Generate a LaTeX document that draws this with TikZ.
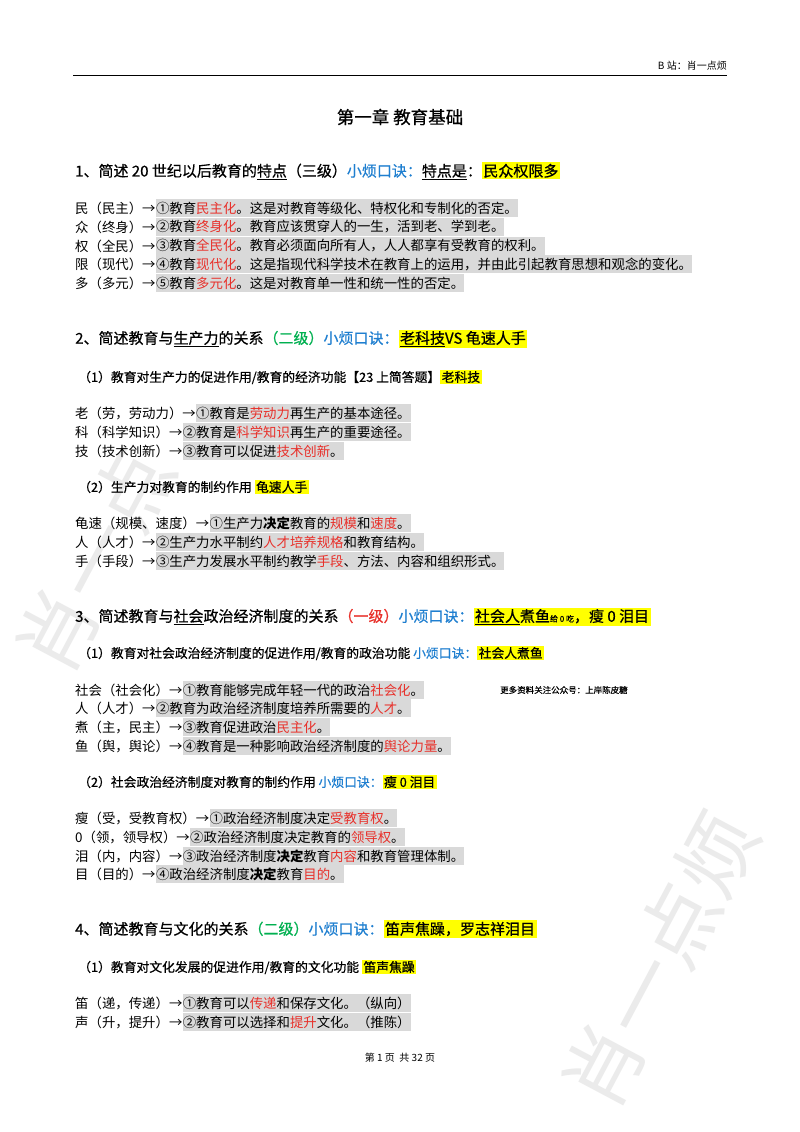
\documentclass[tikz,border=0pt]{standalone}
\usepackage{fontspec}
\newfontfamily\cjk{Noto Sans CJK SC}
\newfontfamily\cjkb[FakeBold=0.6]{Noto Sans CJK SC}
\definecolor{gbox}{HTML}{D9D9D9}
\definecolor{rd}{HTML}{E8302A}
\definecolor{bl}{HTML}{1F7FD0}
\definecolor{gn}{HTML}{00B050}
\definecolor{yl}{HTML}{FFFF00}
\newcommand\rd[1]{\textcolor{rd}{#1}}
\newcommand\bl[1]{\textcolor{bl}{#1}}
\newcommand\gn[1]{\textcolor{gn}{#1}}
\newcommand\yb[1]{{\setlength{\fboxsep}{1.5pt}\colorbox{yl}{#1}}}
\tikzset{
 txt/.style={anchor=west,inner sep=0pt,font=\cjk\fontsize{13.4}{15}\selectfont},
 gtxt/.style={anchor=west,inner xsep=0pt,inner ysep=2.5pt,fill=gbox,font=\cjk\fontsize{13.4}{15}\selectfont},
 ttl/.style={anchor=west,inner sep=0pt,font=\cjkb\fontsize{15}{18}\selectfont},
 sub/.style={anchor=west,inner sep=0pt,font=\cjkb\fontsize{12.8}{15}\selectfont},
 wm/.style={text=black!8,font=\cjk\fontsize{80}{80}\selectfont,rotate=62}
}
\newcommand\gline[4]{\node[txt] (#1p) at (75,#2) {#3}; \node[gtxt] (#1b) at (#1p.east) {#4};}
\begin{document}
\begin{tikzpicture}[x=1pt,y=-1pt]
\useasboundingbox[fill=white] (0,0) rectangle (800,1132);
\node[wm] (w1) at (95,560) {肖一点};
\node[wm] (w2) at (660,960) {肖一点烦};
\node[anchor=east,inner sep=0pt,font=\cjk\fontsize{10}{12}\selectfont] (hd) at (727,66) {B 站：肖一点烦};
\coordinate (l1) at (73,75); \coordinate (l2) at (727,75);
\draw[line width=0.6pt] (l1) -- (l2);
\node[inner sep=0pt,font=\cjkb\fontsize{17.5}{20}\selectfont] (title) at (400,117) {第一章\ 教育基础};

\node[ttl] (t1) at (75,171) {1、简述 20 世纪以后教育的\underline{特点}（三级）\bl{小烦口诀：}\underline{特点是}：\yb{民众权限多}};
\gline{a1}{208}{民（民主）→}{①教育\rd{民主化}。这是对教育等级化、特权化和专制化的否定。}
\gline{a2}{227}{众（终身）→}{②教育\rd{终身化}。教育应该贯穿人的一生，活到老、学到老。}
\gline{a3}{246}{权（全民）→}{③教育\rd{全民化}。教育必须面向所有人，人人都享有受教育的权利。}
\gline{a4}{264}{限（现代）→}{④教育\rd{现代化}。这是指现代科学技术在教育上的运用，并由此引起教育思想和观念的变化。}
\gline{a5}{283}{多（多元）→}{⑤教育\rd{多元化}。这是对教育单一性和统一性的否定。}

\node[ttl] (t2) at (75,339) {2、简述教育与\underline{生产力}的关系\gn{（二级）}\bl{小烦口诀：}\yb{\underline{老科技}VS 龟速人手}};
\node[sub] (s21) at (78,377) {（1）教育对生产力的促进作用/教育的经济功能【23 上简答题】\yb{老科技}};
\gline{b1}{413}{老（劳，劳动力）→}{①教育是\rd{劳动力}再生产的基本途径。}
\gline{b2}{432}{科（科学知识）→}{②教育是\rd{科学知识}再生产的重要途径。}
\gline{b3}{451}{技（技术创新）→}{③教育可以促进\rd{技术创新}。}
\node[sub] (s22) at (78,487) {（2）生产力对教育的制约作用\ \yb{龟速人手}};
\gline{c1}{523}{龟速（规模、速度）→}{①生产力\textbf{决定}教育的\rd{规模}和\rd{速度}。}
\gline{c2}{542}{人（人才）→}{②生产力水平制约\rd{人才培养规格}和教育结构。}
\gline{c3}{561}{手（手段）→}{③生产力发展水平制约教学\rd{手段}、方法、内容和组织形式。}

\node[ttl] (t3) at (75,617) {3、简述教育与\underline{社会}政治经济制度的关系\rd{（一级）}\bl{小烦口诀：}\yb{\underline{社会人}煮鱼{\fontsize{8}{9}\selectfont 给 0 吃}，瘦 0 泪目}};
\node[sub] (s31) at (78,653) {（1）教育对社会政治经济制度的促进作用/教育的政治功能\ \bl{小烦口诀：}\yb{社会人煮鱼}};
\gline{d1}{690}{社会（社会化）→}{①教育能够完成年轻一代的政治\rd{社会化}。}
\node[anchor=west,inner sep=0pt,font=\cjkb\fontsize{8.5}{10}\selectfont] (note) at (500,690) {更多资料关注公众号：上岸陈皮糖};
\gline{d2}{708}{人（人才）→}{②教育为政治经济制度培养所需要的\rd{人才}。}
\gline{d3}{727}{煮（主，民主）→}{③教育促进政治\rd{民主化}。}
\gline{d4}{746}{鱼（舆，舆论）→}{④教育是一种影响政治经济制度的\rd{舆论力量}。}
\node[sub] (s32) at (78,782) {（2）社会政治经济制度对教育的制约作用\ \bl{小烦口诀：}\yb{瘦 0 泪目}};
\gline{e1}{818}{瘦（受，受教育权）→}{①政治经济制度决定\rd{受教育权}。}
\gline{e2}{837}{0（领，领导权）→}{②政治经济制度决定教育的\rd{领导权}。}
\gline{e3}{856}{泪（内，内容）→}{③政治经济制度\textbf{决定}教育\rd{内容}和教育管理体制。}
\gline{e4}{874}{目（目的）→}{④政治经济制度\textbf{决定}教育\rd{目的}。}

\node[ttl] (t4) at (75,929) {4、简述教育与文化的关系\gn{（二级）}\bl{小烦口诀：}\yb{笛声焦躁，罗志祥泪目}};
\node[sub] (s41) at (78,967) {（1）教育对文化发展的促进作用/教育的文化功能\ \yb{笛声焦躁}};
\gline{f1}{1003}{笛（递，传递）→}{①教育可以\rd{传递}和保存文化。（纵向）}
\gline{f2}{1022}{声（升，提升）→}{②教育可以选择和\rd{提升}文化。（推陈）}

\node[inner sep=0pt,font=\cjk\fontsize{10}{12}\selectfont] (ft) at (400,1058) {第\ 1\ 页\ \ 共\ 32\ 页};
\end{tikzpicture}
\end{document}
